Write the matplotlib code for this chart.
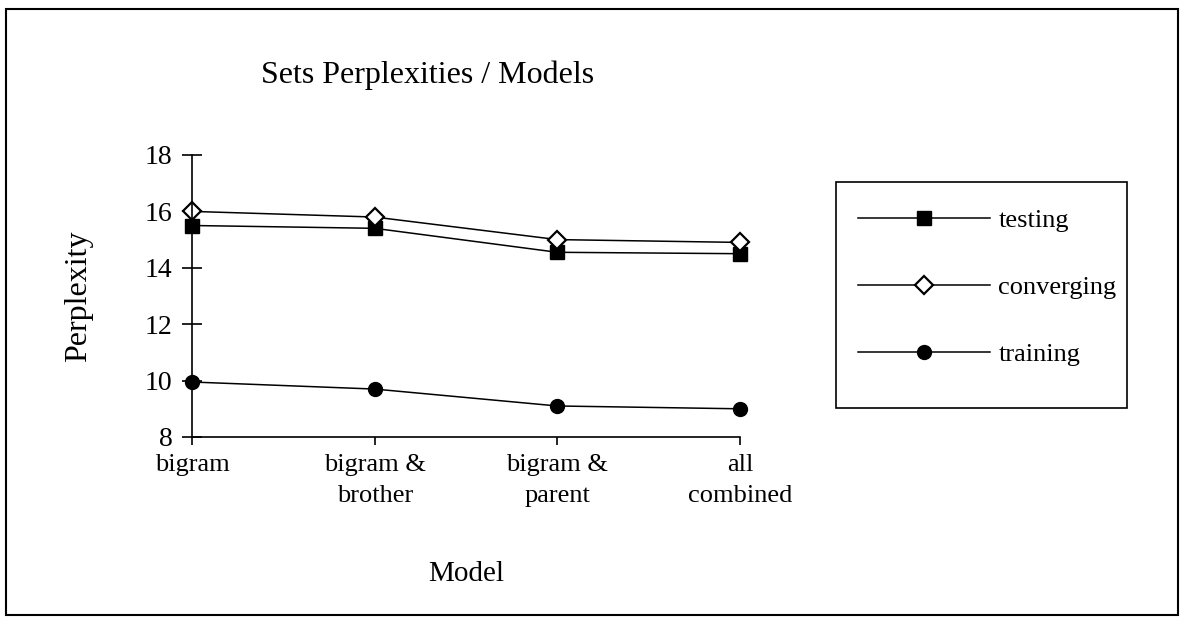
import numpy as np
import matplotlib.pyplot as plt
from matplotlib.patches import Rectangle

models = ['bigram', 'bigram &\nbrother', 'bigram &\nparent', 'all\ncombined']
testing = [15.5, 15.4, 14.55, 14.5]
converging = [16.0, 15.8, 15.0, 14.9]
training = [9.95, 9.7, 9.1, 9.0]

plt.rcParams['font.family'] = ['Liberation Serif', 'DejaVu Serif']

def main():
    fig = plt.figure(figsize=(11.85, 6.17), dpi=100)
    ax = fig.add_axes([192 / 1185, 1 - 437 / 617, (740 - 192) / 1185, (437 - 155) / 617])

    x = np.arange(len(models))
    # same black line for every series, only the marker changes
    ax.plot(x, testing, 'k-', lw=1.1, marker='s', ms=10, mfc='k', label='testing', clip_on=False)
    ax.plot(x, converging, 'k-', lw=1.1, marker='D', ms=9, mfc='white', mew=1.6,
            label='converging', clip_on=False)
    ax.plot(x, training, 'k-', lw=1.1, marker='o', ms=10, mfc='k', label='training', clip_on=False)

    ax.set_xlim(0, len(models) - 1)
    ax.set_ylim(8, 18)
    ax.set_yticks(np.arange(8, 19, 2))
    ax.set_xticks(x)
    ax.set_xticklabels(models, linespacing=1.55)
    for s in ['top', 'right']:
        ax.spines[s].set_visible(False)
    for s in ['left', 'bottom']:
        ax.spines[s].set_linewidth(1.2)
    ax.tick_params(axis='y', direction='inout', length=14, width=1.2, pad=7, labelsize=20)
    ax.tick_params(axis='x', direction='out', length=6, width=1.2, pad=6, labelsize=19)
    ax.set_xlabel('Model', fontsize=21, labelpad=39)
    ax.set_ylabel('Perplexity', fontsize=23, labelpad=37)

    fig.text(428 / 1185, 1 - 75 / 617, 'Sets Perplexities / Models', fontsize=23,
             ha='center', va='center')

    # legend without its own frame; the box is drawn separately to match the original size
    ax.legend(loc='upper left', bbox_to_anchor=(832 / 1185, 1 - 182 / 617),
              bbox_transform=fig.transFigure, borderaxespad=0, fontsize=19,
              handlelength=5.0, handletextpad=0.3, labelspacing=1.65,
              borderpad=1.0, frameon=False)
    fig.patches.append(Rectangle((836 / 1185, 1 - 408 / 617), 291 / 1185, 226 / 617,
                                 transform=fig.transFigure, fill=False,
                                 edgecolor='k', lw=1.2))

    # outer frame of the chart area
    fig.patches.append(Rectangle((6 / 1185, 2 / 617), 1172 / 1185, 606 / 617,
                                 transform=fig.transFigure, fill=False,
                                 edgecolor='k', lw=1.5))

    fig.savefig('out.png', dpi=100)

if __name__ == '__main__':
    main()
